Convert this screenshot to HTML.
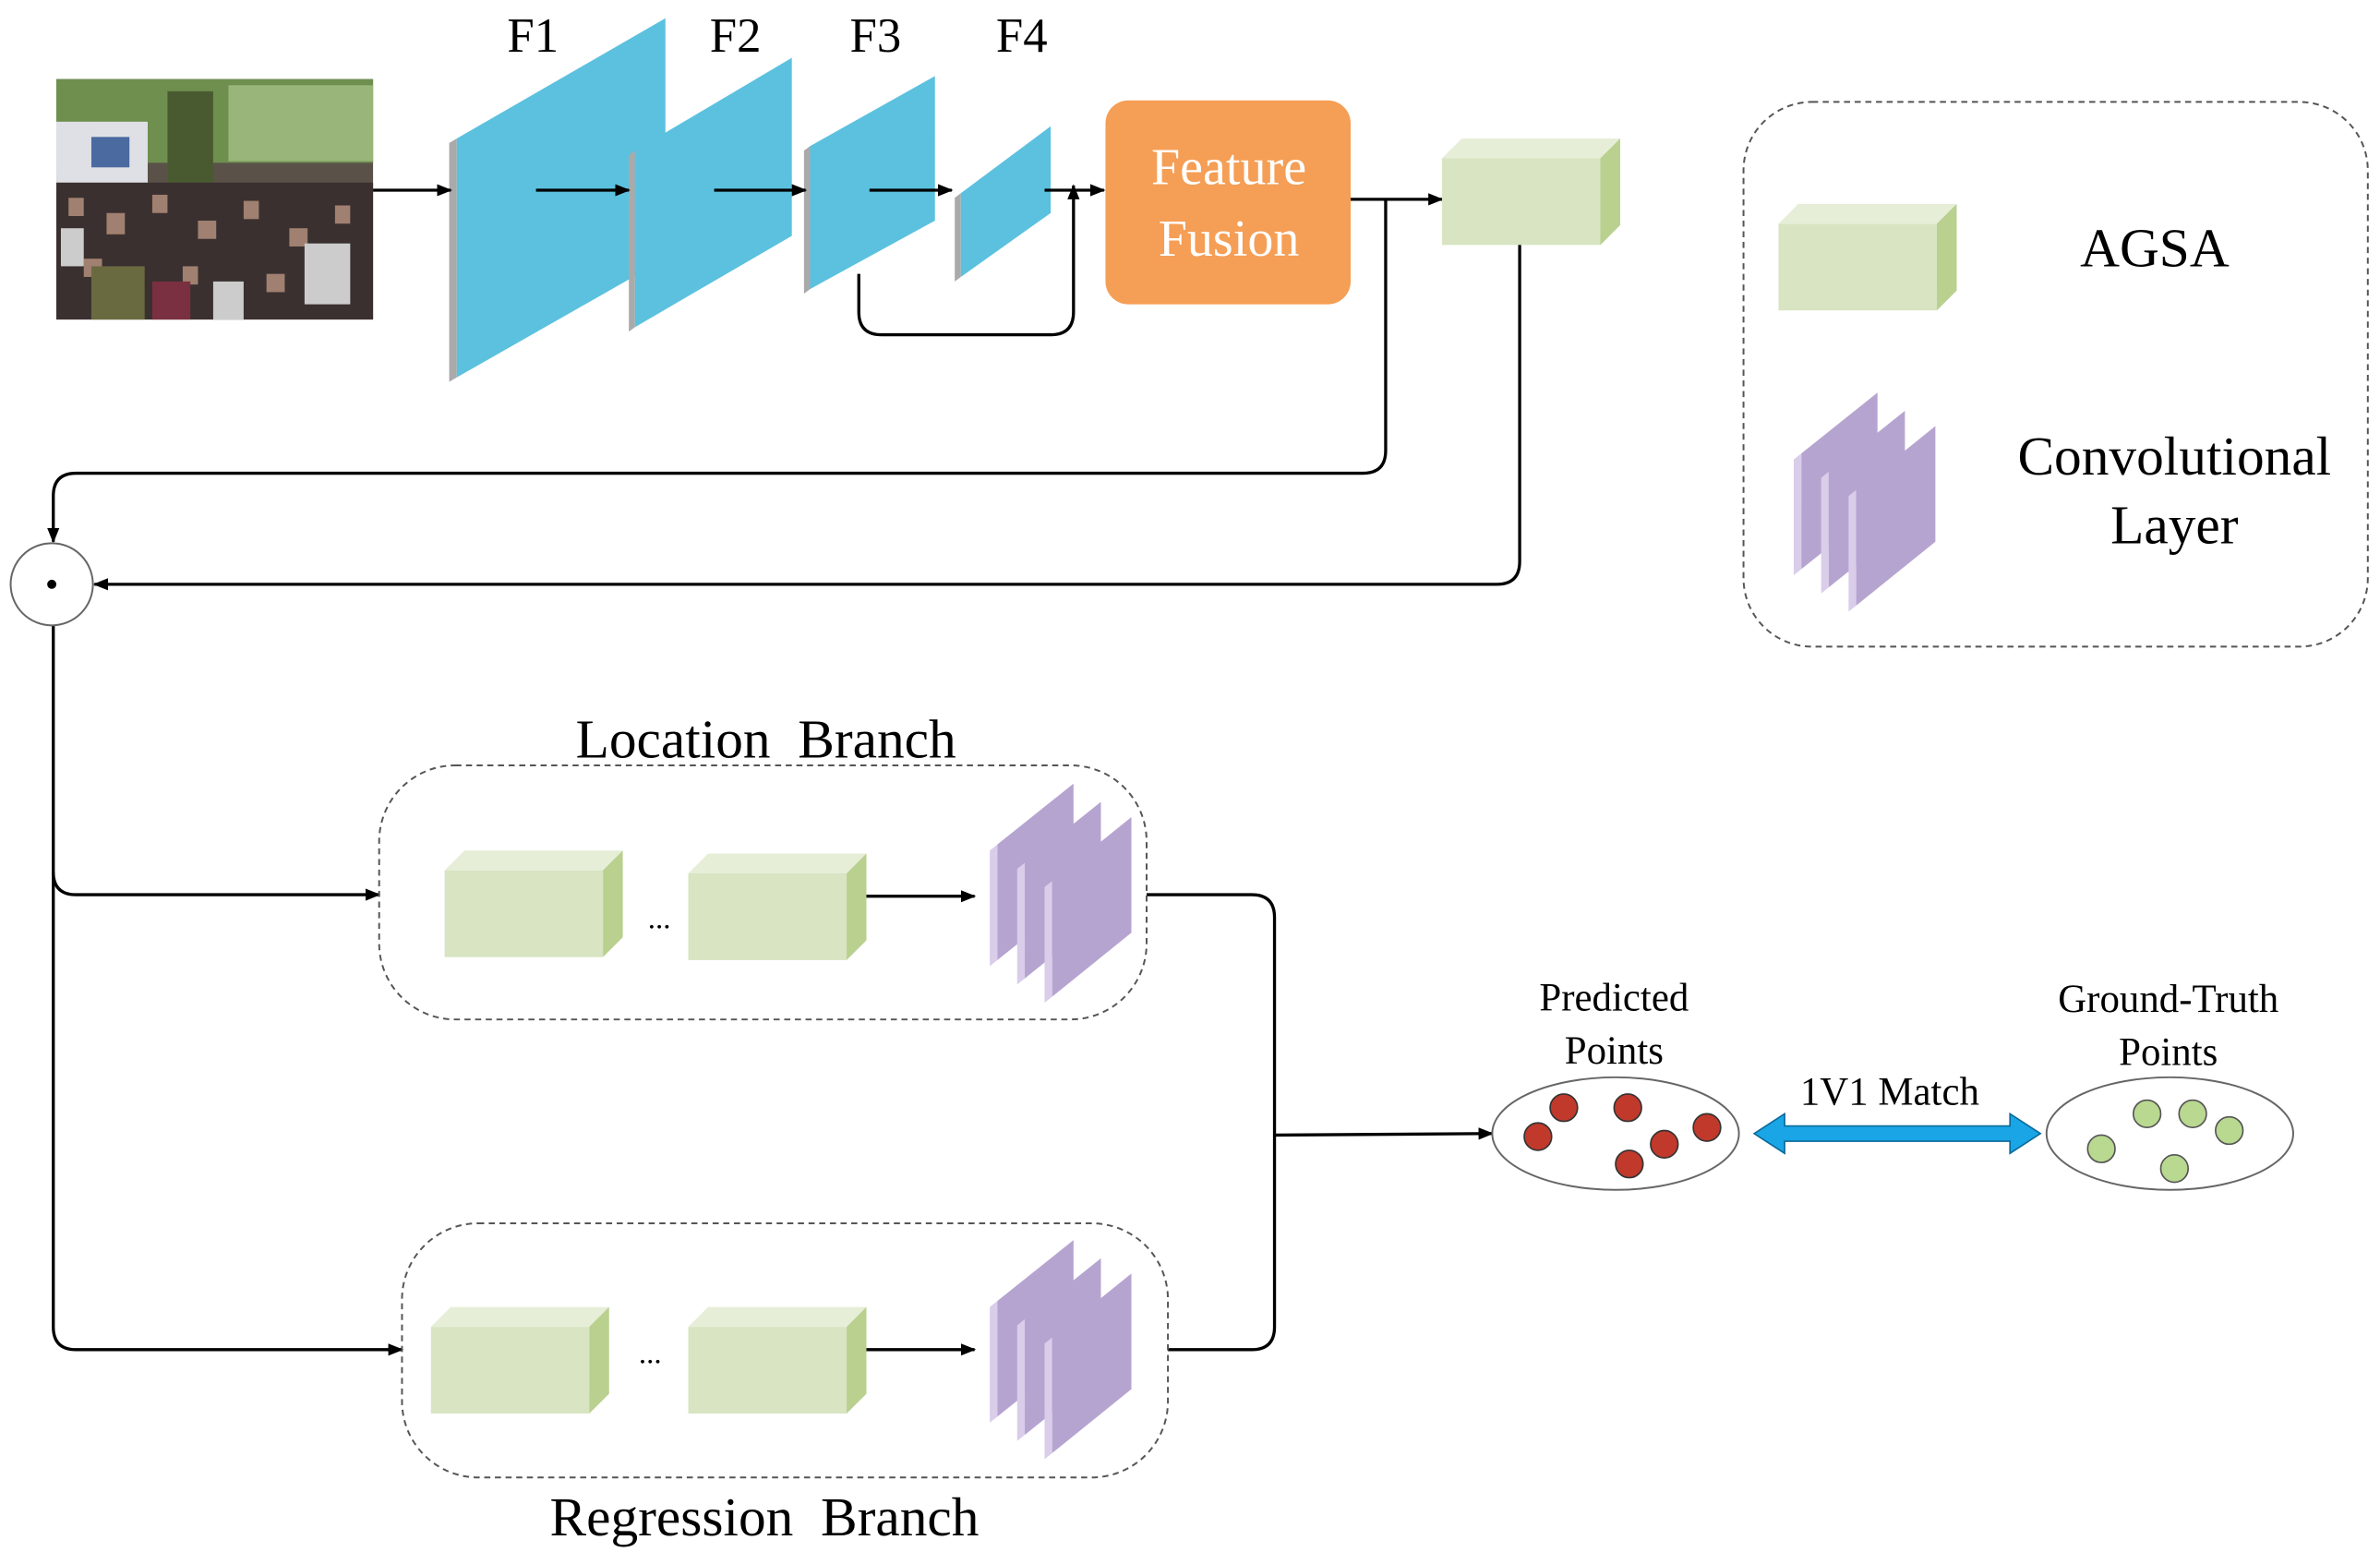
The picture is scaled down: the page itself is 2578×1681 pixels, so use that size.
<!DOCTYPE html>
<html><head><meta charset="utf-8"><style>
html,body{margin:0;padding:0;background:#fff;}
svg{display:block;}
text{font-family:"Liberation Serif",serif;fill:#000;white-space:pre;}
</style></head><body>
<svg width="2578" height="1681" viewBox="0 0 1563 1020" preserveAspectRatio="none" xmlns="http://www.w3.org/2000/svg">
<defs>
<marker id="ah" markerWidth="10" markerHeight="10" refX="9" refY="5" orient="auto" markerUnits="userSpaceOnUse"><path d="M0,1 L10,5 L0,9 z" fill="#000"/></marker>
<g id="blk"><rect x="0" y="13" width="104" height="57" fill="#d8e4c2"/><polygon points="0,13 13,0 117,0 104,13" fill="#e6eed8"/><polygon points="104,13 117,0 117,57 104,70" fill="#b9d08f"/></g>
<g id="conv">
<polygon points="0,62 5,58 5,134 0,138" fill="#d9cdea"/><polygon points="5,58 55,18 55,94 5,134" fill="#b6a4d0"/>
<polygon points="18,74 23,70 23,146 18,150" fill="#d9cdea"/><polygon points="23,70 73,30 73,106 23,146" fill="#b6a4d0"/>
<polygon points="36,86 41,82 41,158 36,162" fill="#d9cdea"/><polygon points="41,82 93,40 93,116 41,158" fill="#b6a4d0"/>
</g>
</defs>
<!-- photo -->
<rect x="37" y="52" width="208" height="158" fill="#5a5248"/>
<rect x="37" y="52" width="208" height="55" fill="#6f8f4f"/>
<rect x="37" y="80" width="60" height="45" fill="#dfe0e6"/>
<rect x="60" y="90" width="25" height="20" fill="#4a6aa0"/>
<rect x="150" y="56" width="95" height="50" fill="#9ab57a"/>
<rect x="110" y="60" width="30" height="60" fill="#4a5a30"/>
<rect x="37" y="120" width="208" height="90" fill="#3a3030"/>
<g fill="#a08070"><rect x="45" y="130" width="10" height="12"/><rect x="70" y="140" width="12" height="14"/><rect x="100" y="128" width="10" height="12"/><rect x="130" y="145" width="12" height="12"/><rect x="160" y="132" width="10" height="12"/><rect x="190" y="150" width="12" height="12"/><rect x="220" y="135" width="10" height="12"/><rect x="55" y="170" width="12" height="12"/><rect x="120" y="175" width="10" height="12"/><rect x="175" y="180" width="12" height="12"/></g>
<g fill="#ccc"><rect x="200" y="160" width="30" height="40"/><rect x="40" y="150" width="15" height="25"/><rect x="140" y="185" width="20" height="25"/></g>
<rect x="60" y="175" width="35" height="35" fill="#6a6a40"/><rect x="100" y="185" width="25" height="25" fill="#7a3040"/>
<!-- feature maps -->
<polygon points="295,94 300,91 300,248 295,251" fill="#aaa"/>
<polygon points="300,91 437,12 437,170 300,248" fill="#5bc1df"/>
<polygon points="413,102 417,99 417,215 413,218" fill="#aaa"/>
<polygon points="417,99 520,38 520,155 417,215" fill="#5bc1df"/>
<polygon points="528,99 532,96 532,190 528,193" fill="#aaa"/>
<polygon points="532,96 614,50 614,145 532,190" fill="#5bc1df"/>
<polygon points="627,130 631,127 631,182 627,185" fill="#aaa"/>
<polygon points="631,127 690,83 690,140 631,182" fill="#5bc1df"/>
<text x="350" y="34" font-size="32" text-anchor="middle">F1</text>
<text x="483" y="34" font-size="32" text-anchor="middle">F2</text>
<text x="575" y="34" font-size="32" text-anchor="middle">F3</text>
<text x="671" y="34" font-size="32" text-anchor="middle">F4</text>
<g stroke="#000" stroke-width="2" fill="none" marker-end="url(#ah)">
<line x1="245" y1="125" x2="296" y2="125"/>
<line x1="352" y1="125" x2="413" y2="125"/>
<line x1="469" y1="125" x2="529" y2="125"/>
<line x1="571" y1="125" x2="625" y2="125"/>
<line x1="686" y1="125" x2="725" y2="125"/>
<path d="M564,180 V205 Q564,220 579,220 H690 Q705,220 705,205 V122"/>
<line x1="887" y1="131" x2="947" y2="131"/>
<path d="M910,131 V296 Q910,311 895,311 H50 Q35,311 35,326 V356"/>
<path d="M998,160 V369 Q998,384 983,384 H62"/>
<path d="M35,411 V872 Q35,887 50,887 H264"/>
<path d="M35,573 Q35,588 50,588 H249"/>
<line x1="568" y1="589" x2="640" y2="589"/>
<line x1="568" y1="887" x2="640" y2="887"/>
<line x1="837" y1="746" x2="980" y2="745"/>
</g>
<g stroke="#000" stroke-width="2" fill="none">
<path d="M753,588 H822 Q837,588 837,603 V872 Q837,887 822,887 H767"/>
</g>
<rect x="726" y="66" width="161" height="134" rx="15" fill="#f59e55"/>
<text x="807" y="121" font-size="34" text-anchor="middle" style="fill:#fff">Feature</text>
<text x="807" y="168" font-size="34" text-anchor="middle" style="fill:#fff">Fusion</text>
<use href="#blk" x="947" y="91"/>
<circle cx="34" cy="384" r="27" fill="#fff" stroke="#666" stroke-width="1.2"/>
<circle cx="34" cy="384" r="3" fill="#000"/>
<!-- branches -->
<rect x="249" y="503" width="504" height="167" rx="50" fill="none" stroke="#555" stroke-width="1.2" stroke-dasharray="4,3"/>
<text x="503" y="498" font-size="36" text-anchor="middle" xml:space="preserve">Location  Branch</text>
<use href="#blk" x="292" y="559"/><use href="#blk" x="452" y="561"/>
<text x="433" y="610" font-size="20" text-anchor="middle">...</text>
<use href="#conv" x="650" y="497"/>
<rect x="264" y="804" width="503" height="167" rx="50" fill="none" stroke="#555" stroke-width="1.2" stroke-dasharray="4,3"/>
<text x="502" y="1009" font-size="36" text-anchor="middle" xml:space="preserve">Regression  Branch</text>
<use href="#blk" x="283" y="859"/><use href="#blk" x="452" y="859"/>
<text x="427" y="896" font-size="20" text-anchor="middle">...</text>
<use href="#conv" x="650" y="797"/>
<!-- points -->
<text x="1060" y="664" font-size="26" text-anchor="middle">Predicted</text>
<text x="1060" y="699" font-size="26" text-anchor="middle">Points</text>
<ellipse cx="1061" cy="745" rx="81" ry="37" fill="#fff" stroke="#666" stroke-width="1.2"/>
<g fill="#c0392b" stroke="#333" stroke-width="1"><circle cx="1027" cy="728" r="9"/><circle cx="1069" cy="728" r="9"/><circle cx="1010" cy="747" r="9"/><circle cx="1093" cy="752" r="9"/><circle cx="1121" cy="741" r="9"/><circle cx="1070" cy="765" r="9"/></g>
<text x="1241" y="726" font-size="26" text-anchor="middle">1V1 Match</text>
<polygon points="1152,745 1172,732 1172,740 1320,740 1320,732 1340,745 1320,758 1320,750 1172,750 1172,758" fill="#1aa6e6" stroke="#0a6a9a" stroke-width="1"/>
<text x="1424" y="665" font-size="26" text-anchor="middle">Ground-Truth</text>
<text x="1424" y="700" font-size="26" text-anchor="middle">Points</text>
<ellipse cx="1425" cy="745" rx="81" ry="37" fill="#fff" stroke="#666" stroke-width="1.2"/>
<g fill="#b9d890" stroke="#555" stroke-width="1"><circle cx="1410" cy="732" r="9"/><circle cx="1440" cy="732" r="9"/><circle cx="1380" cy="755" r="9"/><circle cx="1464" cy="743" r="9"/><circle cx="1428" cy="768" r="9"/></g>
<!-- legend -->
<rect x="1145" y="67" width="410" height="358" rx="45" fill="none" stroke="#555" stroke-width="1.2" stroke-dasharray="4,3"/>
<use href="#blk" x="1168" y="134"/>
<text x="1415" y="175" font-size="36" text-anchor="middle">AGSA</text>
<use href="#conv" x="1178" y="240"/>
<text x="1428" y="312" font-size="36" text-anchor="middle">Convolutional</text>
<text x="1428" y="357" font-size="36" text-anchor="middle">Layer</text>
</svg>
</body></html>
